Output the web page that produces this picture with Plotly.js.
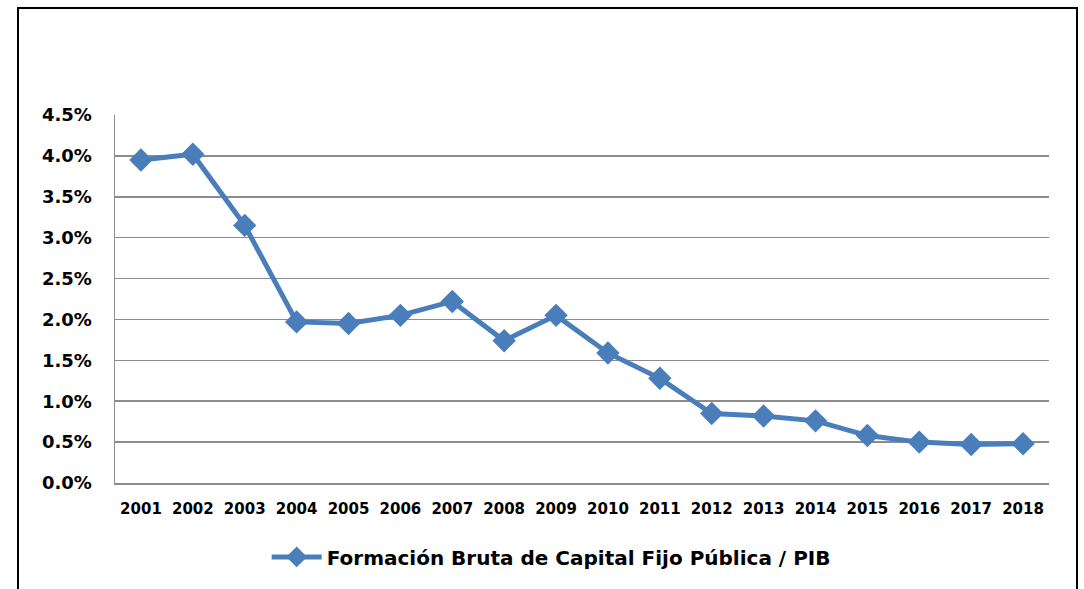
<!DOCTYPE html>
<html>
<head>
<meta charset="utf-8">
<script src="https://cdn.plot.ly/plotly-3.0.1.min.js"></script>
<style>
  html, body { margin: 0; padding: 0; background: #ffffff; }
  #wrap { position: relative; width: 1084px; height: 589px; overflow: hidden; }
  #frame { position: absolute; left: 17px; top: 7px; width: 1061px; height: 620px; border: 2px solid #000; box-sizing: border-box; pointer-events: none; z-index: 5; }
  #chart { position: absolute; left: 0; top: 0; width: 1084px; height: 589px; }
</style>
</head>
<body>
<div id="wrap">
  <div id="chart"></div>
  <div id="frame"></div>
</div>
<script>
const years = ['2001','2002','2003','2004','2005','2006','2007','2008','2009','2010','2011','2012','2013','2014','2015','2016','2017','2018'];
const fbkfPublica = [0.0395, 0.0402, 0.0315, 0.0197, 0.0195, 0.0205, 0.0222, 0.0174, 0.0205, 0.0159, 0.0128, 0.0085, 0.0082, 0.0076, 0.0058, 0.0050, 0.0047, 0.0048];
const seriesName = 'Formación Bruta de Capital Fijo Pública / PIB';
const yTicks = [0, 0.005, 0.01, 0.015, 0.02, 0.025, 0.03, 0.035, 0.04, 0.045];

const fontFam = '"DejaVu Sans", sans-serif';
const blue = '#4a7ebb';

const trace = {
  x: years,
  y: fbkfPublica,
  type: 'scatter',
  mode: 'lines+markers',
  name: seriesName,
  line: { color: blue, width: 5 },
  marker: { symbol: 'diamond', size: 18, color: blue },
  cliponaxis: false
};

const layout = {
  width: 1084,
  height: 589,
  margin: { l: 115, r: 35, t: 115, b: 106 },
  paper_bgcolor: '#ffffff',
  plot_bgcolor: '#ffffff',
  showlegend: true,
  legend: {
    orientation: 'h',
    x: 0.467, xanchor: 'center',
    y: -0.201, yanchor: 'middle',
    font: { family: fontFam, size: 20, color: '#000', weight: 600 },
    itemwidth: 50
  },
  xaxis: {
    type: 'category',
    range: [-0.5, 17.5],
    showgrid: false,
    showline: true,
    linecolor: '#8c8c8c',
    linewidth: 1.5,
    ticks: '',
    ticklabelstandoff: 11,
    tickfont: { family: fontFam, size: 15, color: '#000', weight: 'bold' },
    fixedrange: true
  },
  yaxis: {
    range: [0, 0.045],
    tickvals: yTicks,
    tickformat: '.1%',
    showgrid: true,
    gridcolor: '#8c8c8c',
    gridwidth: 1.5,
    zeroline: false,
    showline: true,
    linecolor: '#8c8c8c',
    linewidth: 1.5,
    ticks: '',
    ticklabelstandoff: 18,
    tickfont: { family: fontFam, size: 18, color: '#000', weight: 'bold' },
    fixedrange: true
  }
};

Plotly.newPlot('chart', [trace], layout, { displayModeBar: false, staticPlot: true });
</script>
</body>
</html>
